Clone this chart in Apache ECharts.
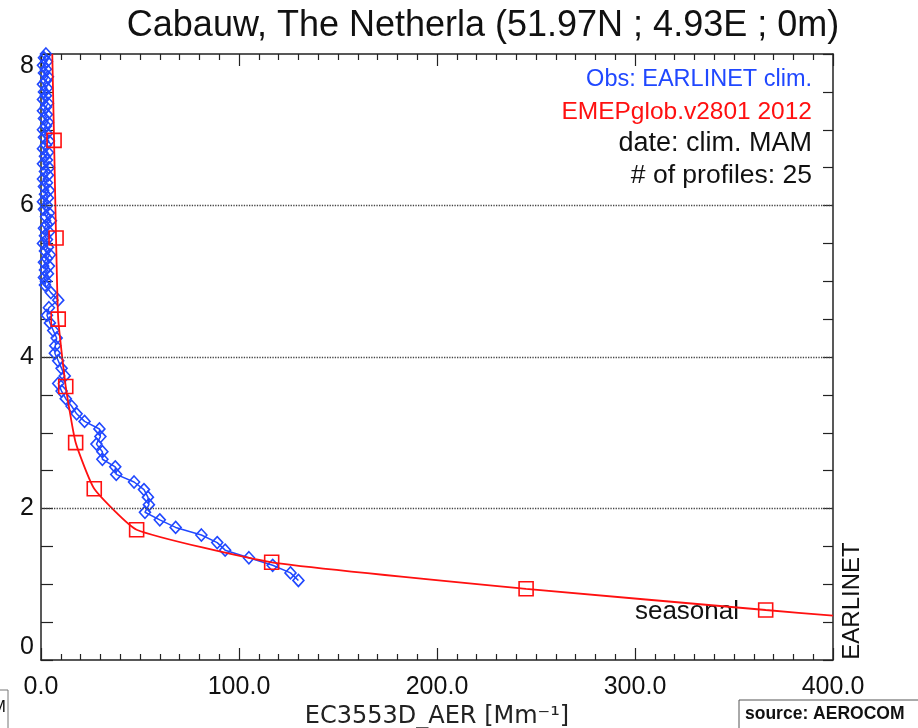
<!DOCTYPE html>
<html>
<head>
<meta charset="utf-8">
<title>Cabauw extinction profile</title>
<script src="https://cdn.jsdelivr.net/npm/echarts@6/dist/echarts.min.js"></script>
<style>
  html, body { margin: 0; padding: 0; background: #fff; }
  #chart { width: 918px; height: 728px; }
</style>
</head>
<body>
<div id="chart"></div>
<script>
// EARLINET climatology (altitude km, extinction Mm-1)
const obsAlt = [1.05, 1.15, 1.25, 1.35, 1.45, 1.55, 1.65, 1.75, 1.85, 1.95,
  2.05, 2.15, 2.25, 2.35, 2.45, 2.55, 2.65, 2.75, 2.85, 2.95,
  3.05, 3.15, 3.25, 3.35, 3.45, 3.55, 3.65, 3.75, 3.85, 3.95,
  4.05, 4.15, 4.25, 4.35, 4.45, 4.55, 4.65, 4.75, 4.85, 4.95,
  5.00, 5.05, 5.10, 5.15, 5.20, 5.25, 5.30, 5.35, 5.40, 5.45,
  5.50, 5.55, 5.60, 5.65, 5.70, 5.75, 5.80, 5.85, 5.90, 5.95,
  6.00, 6.05, 6.10, 6.15, 6.20, 6.25, 6.30, 6.35, 6.40, 6.45,
  6.50, 6.55, 6.60, 6.65, 6.70, 6.75, 6.80, 6.85, 6.90, 6.95,
  7.00, 7.05, 7.10, 7.15, 7.20, 7.25, 7.30, 7.35, 7.40, 7.45,
  7.50, 7.55, 7.60, 7.65, 7.70, 7.75, 7.80, 7.85, 7.90, 7.95, 8.00]
const obsExt = [130, 126, 117, 105, 93, 89, 81, 68, 60, 52.5,
  54.5, 54, 52, 47, 38, 37.5, 31, 31, 28, 30,
  29.5, 22, 18, 15.5, 12.5, 10.4, 8.7, 12, 10.4, 8.7,
  7, 7.2, 7.9, 6.2, 4.5, 3, 4, 8.7, 5, 2,
  2.5, 1.5, 3.5, 2, 4, 1.5, 3, 4.5, 2, 3.5,
  1, 3, 2, 4, 1.5, 3, 5, 2.5, 4, 1.5,
  3, 1, 3.5, 2, 4, 1.5, 3, 1, 3.5, 2,
  4, 1, 3, 2, 3.5, 1, 2.5, 4, 1.5, 3,
  1, 2.5, 3.5, 1.5, 3, 1, 2.5, 3.5, 1, 2.5,
  1.5, 3, 1, 2.5, 3.5, 1.5, 2.5, 1, 3, 1.5, 2.5]

// EMEP model profile, squares only on model levels
const modelAlt = [8.0, 6.86, 5.57, 4.50, 3.61, 2.87, 2.26, 1.72, 1.29, 0.94, 0.66, 0.585]
const modelExt = [5.7, 6.6, 7.6, 8.7, 12.5, 17.5, 26.9, 48.3, 116.5, 245, 366, 400]
const modelMarked = [false, true, true, true, true, true, true, true, true, true, true, false]

const gridLevels = [2, 4, 6]

const font = 'Liberation Sans, Arial, Helvetica, sans-serif'
const blue = '#2048ff'
const red = '#ff1010'
const axisColor = '#222'

let myChart = echarts.init(document.getElementById('chart'))

const axisLine = { show: true, onZero: false, lineStyle: { color: axisColor, width: 1.5 } }
const tickStyle = { color: axisColor, width: 1.2 }

myChart.setOption({
  animation: false,
  grid: { left: 41, right: 85, top: 54, bottom: 68, containLabel: false, outerBoundsMode: 'none' },
  xAxis: [
    {
      type: 'value',
      min: 0,
      max: 400,
      interval: 100,
      position: 'bottom',
      axisLine: axisLine,
      axisTick: { show: true, inside: true, length: 12, lineStyle: tickStyle },
      minorTick: { show: true, splitNumber: 10, length: 6, lineStyle: tickStyle },
      splitLine: { show: false },
      axisLabel: {
        formatter: v => v.toFixed(1),
        fontSize: 25, fontFamily: font, color: '#111', margin: 15
      },
      name: 'EC3553D_AER [Mm\u207B\u00B9]',
      nameLocation: 'middle',
      nameGap: 40,
      nameTextStyle: { fontSize: 24, fontFamily: 'DejaVu Sans, sans-serif', color: '#222' }
    },
    {
      type: 'value',
      min: 0,
      max: 400,
      interval: 100,
      position: 'top',
      axisLine: axisLine,
      axisTick: { show: true, inside: true, length: 12, lineStyle: tickStyle },
      minorTick: { show: true, splitNumber: 10, length: 6, lineStyle: tickStyle },
      splitLine: { show: false },
      axisLabel: { show: false }
    }
  ],
  yAxis: [
    {
      type: 'value',
      min: 0,
      max: 8,
      interval: 2,
      position: 'left',
      axisLine: axisLine,
      axisTick: { show: true, inside: true, length: 12, lineStyle: tickStyle },
      minorTick: { show: true, splitNumber: 4, length: 12, lineStyle: tickStyle },
      splitLine: { show: false },
      axisLabel: {
        fontSize: 25, fontFamily: font, color: '#111', margin: 7,
        verticalAlignMaxLabel: 'top', verticalAlignMinLabel: 'bottom'
      }
    },
    {
      type: 'value',
      min: 0,
      max: 8,
      interval: 2,
      position: 'right',
      axisLine: axisLine,
      axisTick: { show: true, inside: true, length: 10, lineStyle: tickStyle },
      minorTick: { show: true, splitNumber: 4, length: 10, lineStyle: tickStyle },
      splitLine: { show: false },
      axisLabel: { show: false }
    }
  ],
  series: [
    {
      name: 'Obs: EARLINET clim.',
      type: 'line',
      data: obsExt.map((v, i) => [v, obsAlt[i]]),
      symbol: 'diamond',
      symbolSize: [11, 12],
      showAllSymbol: true,
      clip: true,
      lineStyle: { color: blue, width: 1.5 },
      itemStyle: { color: 'transparent', borderColor: blue, borderWidth: 1.6 },
      markLine: {
        silent: true,
        symbol: 'none',
        label: { show: false },
        lineStyle: { type: 'dotted', color: '#444', width: 1.3 },
        data: gridLevels.map(v => ({ yAxis: v }))
      },
      z: 3
    },
    {
      name: 'EMEPglob.v2801 2012',
      type: 'line',
      smooth: 0.15,
      clip: true,
      data: modelExt.map((v, i) => ({
        value: [v, modelAlt[i]],
        symbol: modelMarked[i] ? 'rect' : 'none'
      })),
      symbolSize: 14,
      showAllSymbol: true,
      lineStyle: { color: red, width: 1.8 },
      itemStyle: { color: 'transparent', borderColor: red, borderWidth: 1.6 },
      z: 4
    }
  ],
  graphic: [
    {
      type: 'text', x: 483, y: 26,
      style: {
        text: 'Cabauw, The Netherla (51.97N ; 4.93E ; 0m)',
        font: '36px ' + font, fill: '#111', textAlign: 'center', textVerticalAlign: 'middle'
      }
    },
    {
      type: 'text', x: 812, y: 80,
      style: { text: 'Obs: EARLINET clim.', font: '23.5px ' + font, fill: blue, textAlign: 'right', textVerticalAlign: 'middle' }
    },
    {
      type: 'text', x: 812, y: 112,
      style: { text: 'EMEPglob.v2801 2012', font: '24.5px ' + font, fill: red, textAlign: 'right', textVerticalAlign: 'middle' }
    },
    {
      type: 'text', x: 812, y: 144,
      style: { text: 'date: clim. MAM', font: '27px ' + font, fill: '#111', textAlign: 'right', textVerticalAlign: 'middle' }
    },
    {
      type: 'text', x: 812, y: 176,
      style: { text: '# of profiles: 25', font: '26.5px ' + font, fill: '#111', textAlign: 'right', textVerticalAlign: 'middle' }
    },
    {
      type: 'text', x: 739, y: 612,
      style: { text: 'seasonal', font: '26px ' + font, fill: '#111', textAlign: 'right', textVerticalAlign: 'middle' }
    },
    {
      type: 'text', x: 852, y: 601, rotation: Math.PI / 2,
      style: { text: 'EARLINET', font: '24px ' + font, fill: '#111', textAlign: 'center', textVerticalAlign: 'middle' }
    },
    {
      type: 'rect', shape: { x: 739, y: 700, width: 190, height: 40 },
      style: { fill: '#fff', stroke: '#555', lineWidth: 1 }
    },
    {
      type: 'text', x: 745, y: 714,
      style: { text: 'source: AEROCOM', font: 'bold 17.5px ' + font, fill: '#111', textVerticalAlign: 'middle' }
    },
    {
      type: 'rect', shape: { x: -60, y: 690, width: 68, height: 50 },
      style: { fill: '#fff', stroke: '#777', lineWidth: 1 }
    },
    {
      type: 'text', x: 6, y: 707,
      style: { text: 'M', font: '17px ' + font, fill: '#111', textAlign: 'right', textVerticalAlign: 'middle' }
    }
  ]
})
</script>
</body>
</html>
